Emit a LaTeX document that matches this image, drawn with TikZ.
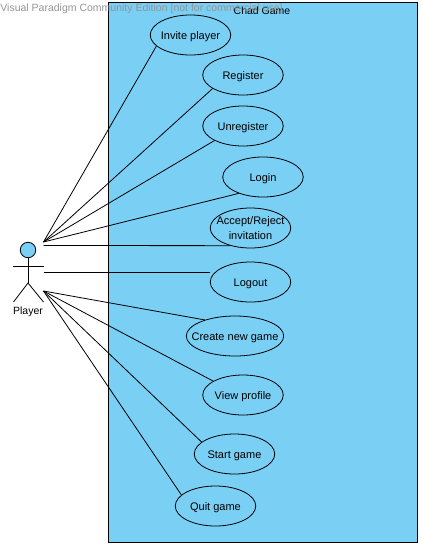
\documentclass[tikz,border=0pt]{standalone}
\usepackage{fontspec}
\setmainfont{Liberation Sans}
\usetikzlibrary{shapes.geometric}
\definecolor{vpblue}{RGB}{122,207,245}

\tikzset{
  usecase/.style={ellipse,draw,inner xsep=-12pt,inner ysep=0pt,minimum width=80.5pt,minimum height=40pt,text centered,text height=8pt,text depth=0pt,font=\fontsize{11}{15}\selectfont},
  link/.style={line width=0.8pt},
  caption/.style={inner sep=0pt,text height=8pt,text depth=0pt,font=\fontsize{10.5}{12}\selectfont},
}

\begin{document}
\begin{tikzpicture}[x=1pt,y=-1pt,line width=0.8pt]
\useasboundingbox (0,0) rectangle (422,547);

\node(chad) at (262.75,272.25)[rectangle,draw,fill=vpblue,minimum width=308.5pt,minimum height=539.5pt,inner sep=0pt] {};
\node(title) at (262,10)[caption] {Chad Game};
\node(mark) at (0,7)[caption,anchor=west,text=black!42] {Visual Paradigm Community Edition [not for commercial use]};

\node(invite) at (190.5,35)[usecase] {Invite player};
\node(register) at (243,75)[usecase] {Register};
\node(unregister) at (243,126)[usecase] {Unregister};
\node(login) at (263,177)[usecase] {Login};
\node(accept) at (250.5,228)[usecase,align=center,text height=23pt] {Accept/Reject\\invitation};
\node(logout) at (250.5,282)[usecase] {Logout};
\node(create) at (235,336)[usecase,minimum width=97.5pt] {Create new game};
\node(view) at (243,395)[usecase] {View profile};
\node(start) at (234.5,454)[usecase] {Start game};
\node(quit) at (215.5,506)[usecase] {Quit game};

% the actor
\node(head) at (28,250)[circle,draw,fill=vpblue,minimum size=15.5pt,inner sep=0pt] {};
\coordinate(armL) at (13,266.5);
\coordinate(armR) at (43.5,266.5);
\coordinate(hip) at (28,283);
\coordinate(footL) at (13.5,302);
\coordinate(footR) at (43.5,302);
\node(player) at (28,310)[caption] {Player};

\draw (head) -- (hip);
\draw (armL) -- (armR);
\draw (footL) -- (hip) -- (footR);

\coordinate(up) at (43.5,242);
\coordinate(mid) at (43.5,245.5);
\coordinate(side) at (43.5,272);
\coordinate(low) at (43.5,291);

\draw[link] (up) -- (invite.198);
\draw[link] (up) -- (register.204);
\draw[link] (up) -- (unregister.207);
\draw[link] (up) -- (login.214.5);
\draw[link] (mid) -- (accept.221);
\draw[link] (side) -- (side -| logout.west);
\draw[link] (low) -- (create.152);
\draw[link] (low) -- (view.155);
\draw[link] (low) -- (start.160);
\draw[link] (low) -- (quit.162.5);

\end{tikzpicture}
\end{document}
